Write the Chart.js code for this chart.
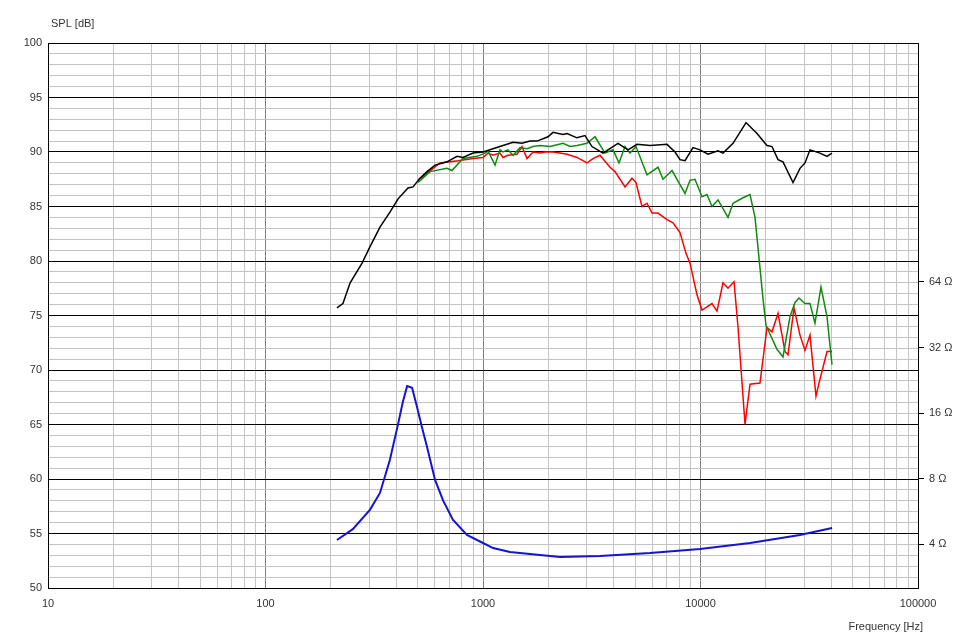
<!DOCTYPE html>
<html>
<head>
<meta charset="utf-8">
<title>SPL / Impedance</title>
<script src="https://cdn.jsdelivr.net/npm/chart.js"></script>
<style>
  body { margin: 0; background: #fff; }
  canvas { display: block; }
</style>
</head>
<body>
<canvas id="myChart" width="969" height="643"></canvas>
<script>
// tick labels
const freqDecades = [10, 100, 1000, 10000, 100000];
const ohmTicks = [4, 8, 16, 32, 64];

// on-axis SPL (black)
const blackFreq = [213, 227, 245, 278, 302, 336, 374, 407, 452, 477, 513, 553, 602, 683, 760, 809, 900, 1000, 1112, 1236,
  1374, 1511, 1645, 1772, 1991, 2098, 2333, 2434, 2705, 2944, 3171, 3562, 4176, 4642, 5106, 5859, 7015, 7636, 8050, 8487,
  9238, 9947, 10830, 12040, 12690, 14110, 16190, 18190, 20220, 21320, 22720, 23950, 26630, 28670, 30230, 31870, 35430, 38160, 40230];
const blackSpl = [75.7, 76.1, 78.0, 79.8, 81.3, 83.1, 84.5, 85.7, 86.7, 86.8, 87.6, 88.2, 88.8, 89.1, 89.6, 89.5, 89.9, 90.0, 90.3, 90.6,
  90.9, 90.8, 91.0, 91.0, 91.4, 91.8, 91.6, 91.7, 91.3, 91.5, 90.5, 89.9, 90.8, 90.2, 90.7, 90.6, 90.7, 90.0, 89.3, 89.2,
  90.4, 90.2, 89.8, 90.1, 89.9, 90.8, 92.7, 91.7, 90.6, 90.5, 89.3, 89.1, 87.2, 88.5, 89.0, 90.2, 89.9, 89.6, 89.9];

// off-axis SPL (green)
const greenFreq = [503, 571, 683, 720, 809, 938, 1021, 1054, 1136, 1197, 1236, 1303, 1374, 1480, 1594, 1698, 1829, 2033, 2333, 2512,
  2705, 3008, 3273, 3638, 3960, 4220, 4497, 4741, 5051, 5675, 6377, 6723, 7396, 8487, 8948, 9434, 10160, 10710, 11290, 12040,
  13380, 14110, 15690, 16890, 17810, 19390, 20010, 22470, 23950, 25790, 27200, 28370, 30230, 31870, 33600, 35810, 38160, 40230];
const greenSpl = [87.2, 88.2, 88.5, 88.3, 89.4, 89.6, 89.9, 90.1, 88.8, 90.2, 90.0, 90.2, 89.7, 90.4, 90.3, 90.5, 90.6, 90.5, 90.8, 90.5,
  90.6, 90.8, 91.4, 89.9, 90.2, 89.0, 90.5, 89.9, 90.5, 87.9, 88.6, 87.5, 88.3, 86.2, 87.4, 87.5, 85.9, 86.1, 85.0, 85.6,
  84.0, 85.3, 85.8, 86.1, 84.0, 76.5, 74.1, 71.9, 71.2, 74.9, 76.2, 76.6, 76.1, 76.1, 74.3, 77.6, 74.9, 70.5];

// off-axis SPL (red)
const redFreq = [503, 634, 768, 900, 1000, 1054, 1112, 1197, 1236, 1303, 1433, 1511, 1594, 1698, 1829, 1928, 2098, 2259, 2434, 2705,
  3008, 3204, 3451, 3836, 4045, 4497, 4843, 5051, 5383, 5675, 5984, 6377, 7015, 7474, 8050, 8577, 8948, 9636, 10160, 11290,
  11910, 12690, 13380, 14260, 14880, 16020, 16890, 18770, 20220, 21320, 22720, 24460, 25250, 26910, 28670, 30230, 31870, 33960, 35060, 38160, 40230];
const redSpl = [87.4, 89.0, 89.2, 89.4, 89.5, 89.9, 89.7, 89.9, 89.5, 89.7, 89.8, 90.5, 89.4, 90.0, 89.9, 90.0, 90.0, 89.9, 89.8, 89.5,
  89.0, 89.4, 89.7, 88.6, 88.2, 86.8, 87.6, 87.2, 85.0, 85.3, 84.4, 84.4, 83.8, 83.5, 82.6, 80.7, 79.8, 76.9, 75.5, 76.1,
  75.4, 78.0, 77.5, 78.1, 73.9, 65.0, 68.7, 68.8, 73.9, 73.5, 75.2, 71.7, 71.4, 75.7, 73.2, 71.8, 73.2, 67.6, 68.8, 71.7, 71.7];

// impedance (blue), ohms
const blueFreq = [213, 252, 302, 336, 373, 406, 428, 448, 472, 497, 524, 553, 602, 655, 728, 844, 1000, 1112, 1331, 1479,
  2260, 3451, 5861, 9950, 16900, 28650, 40270];
const blueOhm = [4.19, 4.70, 5.76, 6.89, 9.75, 14.1, 18.0, 21.3, 20.9, 17.1, 13.8, 11.2, 7.90, 6.37, 5.18, 4.42, 4.06, 3.85, 3.69, 3.65,
  3.50, 3.54, 3.65, 3.81, 4.06, 4.42, 4.76];

function points(xs, ys){
    return xs.map((x, i) => ({x: x, y: ys[i]}));
}

// minor grid ticks 1..9 in each decade
let xTicks = [];
for(let i = 0; i < freqDecades.length - 1; i++){
    for(let m = 1; m < 10; m++){
        xTicks.push(freqDecades[i] * m);
    }
}
xTicks.push(freqDecades[freqDecades.length - 1]);

const labelFont = { family: "Liberation Sans", size: 11 };
const labelColor = "#333";

// axis captions
const captions = {
  id: "captions",
  afterDraw(chart){
    const ctx = chart.ctx;
    ctx.save();
    ctx.font = "11px 'Liberation Sans'";
    ctx.fillStyle = labelColor;
    ctx.textBaseline = "middle";
    ctx.textAlign = "left";
    ctx.fillText("SPL [dB]", 51, 24);
    ctx.textAlign = "right";
    ctx.fillText("Frequency [Hz]", 923, 627);
    ctx.restore();
  }
};

const whiteBg = {
  id: "whiteBg",
  beforeDraw(chart){
    const ctx = chart.ctx;
    ctx.save();
    ctx.fillStyle = "#fff";
    ctx.fillRect(0, 0, chart.width, chart.height);
    ctx.restore();
  }
};

let myChart = document.getElementById("myChart").getContext("2d");
let chart = new Chart(myChart, {
  type: "line",
  data: {
    datasets: [
      { label: "SPL 0°", data: points(blackFreq, blackSpl), borderColor: "#000000", borderWidth: 1.5, yAxisID: "y" },
      { label: "SPL green", data: points(greenFreq, greenSpl), borderColor: "#108a10", borderWidth: 1.5, yAxisID: "y" },
      { label: "SPL red", data: points(redFreq, redSpl), borderColor: "#ff0000", borderWidth: 1.5, yAxisID: "y" },
      { label: "Impedance", data: points(blueFreq, blueOhm), borderColor: "#1414d2", borderWidth: 2, yAxisID: "yZ" },
    ],
  },
  options: {
    responsive: false,
    animation: false,
    elements: { point: { radius: 0 }, line: { tension: 0, fill: false } },
    layout: { padding: { top: 43, left: 0, right: 0, bottom: 0 } },
    plugins: { legend: { display: false }, tooltip: { enabled: false }, title: { display: false } },
    scales: {
      x: {
        type: "logarithmic",
        min: 10,
        max: 100000,
        afterBuildTicks: (scale) => { scale.ticks = xTicks.map(v => ({ value: v })); },
        afterFit: (scale) => { scale.height = 55; },
        ticks: {
          autoSkip: false,
          maxRotation: 0,
          padding: 9,
          font: labelFont,
          color: labelColor,
          callback: (v) => freqDecades.includes(v) ? String(v) : "",
        },
        grid: {
          drawTicks: false,
          color: (c) => freqDecades.includes(c.tick.value) ? "#808080" : "#c4c4c4",
        },
        border: { color: "#000" },
      },
      y: {
        position: "left",
        min: 50,
        max: 100,
        afterFit: (scale) => { scale.width = 48; },
        ticks: {
          stepSize: 1,
          autoSkip: false,
          padding: 6,
          font: labelFont,
          color: labelColor,
          callback: (v) => v % 5 === 0 ? String(v) : "",
        },
        grid: {
          drawTicks: false,
          color: (c) => c.tick.value % 5 === 0 ? "#000000" : "#c4c4c4",
        },
        border: { color: "#000" },
      },
      yZ: {
        type: "logarithmic",
        position: "right",
        min: 2.524,
        max: 798,
        afterBuildTicks: (scale) => { scale.ticks = ohmTicks.map(v => ({ value: v })); },
        afterFit: (scale) => { scale.width = 51; },
        ticks: {
          autoSkip: false,
          padding: 5,
          font: labelFont,
          color: labelColor,
          callback: (v) => v + " \u03A9",
        },
        grid: {
          drawOnChartArea: false,
          drawTicks: true,
          tickLength: 6,
          color: "#000",
        },
        border: { color: "#000" },
      },
    },
  },
  plugins: [whiteBg, captions],
});
</script>
</body>
</html>
